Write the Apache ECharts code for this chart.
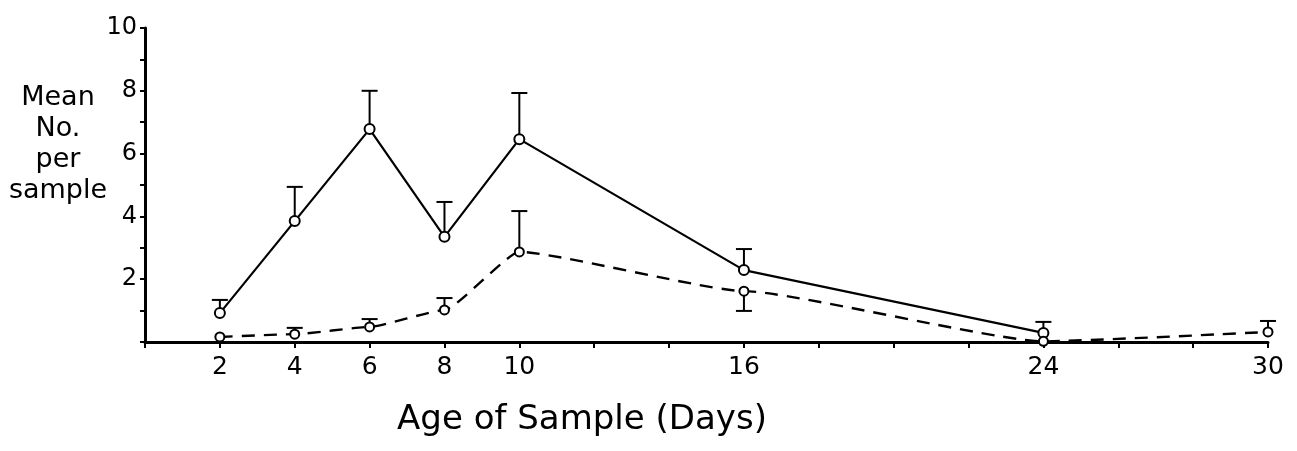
<!DOCTYPE html>
<html>
<head>
<meta charset="utf-8">
<script src="https://cdn.jsdelivr.net/npm/echarts@6/dist/echarts.min.js"></script>
<style>
  html, body { margin: 0; padding: 0; background: #fff; }
  #chart { width: 1297px; height: 451px; }
</style>
</head>
<body>
<div id="chart"></div>
<script>
// data
var days = [2, 4, 6, 8, 10, 16, 24, 30];
var solidMean = [0.92, 3.85, 6.78, 3.35, 6.46, 2.29, 0.29, null];
var solidErr = [1.34, 4.94, 8.0, 4.46, 7.93, 2.96, 0.64, null];
var dashedMean = [0.16, 0.25, 0.48, 1.02, 2.87, 1.62, 0.02, 0.32];
var dashedErr = [null, 0.45, 0.73, 1.4, 4.17, 0.99, null, 0.67];
var xLabels = [2, 4, 6, 8, 10, 16, 24, 30];
var yLabels = [2, 4, 6, 8, 10];

function pairs(ys) {
    var out = [];
    for (var i = 0; i < days.length; i++) {
        if (ys[i] != null) out.push([days[i], ys[i]]);
    }
    return out;
}

function errPairs(means, ends) {
    var out = [];
    for (var i = 0; i < days.length; i++) {
        if (means[i] != null && ends[i] != null) out.push([days[i], means[i], ends[i]]);
    }
    return out;
}

function errorBar(params, api) {
    var p0 = api.coord([api.value(0), api.value(1)]);
    var p1 = api.coord([api.value(0), api.value(2)]);
    var dir = p1[1] < p0[1] ? 1 : -1;
    var style = { stroke: '#000', lineWidth: 2 };
    return {
        type: 'group',
        children: [
            { type: 'line', shape: { x1: p0[0], y1: p0[1] - dir * 4, x2: p1[0], y2: p1[1] }, style: style },
            { type: 'line', shape: { x1: p1[0] - 8, y1: p1[1], x2: p1[0] + 8, y2: p1[1] }, style: style }
        ]
    };
}

var chart = echarts.init(document.getElementById('chart'));
var font = 'DejaVu Sans';

var option = {
    animation: false,
    backgroundColor: '#fff',
    grid: { left: 145, right: 29, top: 28, bottom: 109 },
    graphic: [
        {
            type: 'text',
            x: 58,
            y: 82,
            style: {
                text: 'Mean\nNo.\nper\nsample',
                font: '27px "DejaVu Sans"',
                fill: '#000',
                align: 'center',
                lineHeight: 31
            }
        },
        {
            type: 'text',
            x: 582,
            y: 403,
            style: {
                text: 'Age of Sample (Days)',
                font: '34px "DejaVu Sans"',
                fill: '#000',
                align: 'center'
            }
        }
    ],
    xAxis: {
        type: 'value',
        min: 0,
        max: 30,
        interval: 2,
        axisLine: { lineStyle: { color: '#000', width: 3 } },
        axisTick: { length: 6, lineStyle: { color: '#000', width: 2 } },
        splitLine: { show: false },
        axisLabel: {
            fontFamily: font, fontSize: 25, color: '#000', margin: 13,
            formatter: function (v) { return xLabels.indexOf(v) >= 0 ? String(v) : ''; }
        }
    },
    yAxis: {
        type: 'value',
        min: 0,
        max: 10,
        interval: 1,
        axisLine: { show: true, lineStyle: { color: '#000', width: 3 } },
        axisTick: { show: true, length: 5, lineStyle: { color: '#000', width: 2 } },
        splitLine: { show: false },
        axisLabel: {
            fontFamily: font, fontSize: 24, color: '#000', margin: 8,
            formatter: function (v) { return yLabels.indexOf(v) >= 0 ? String(v) : ''; }
        }
    },
    series: [
        {
            name: 'solid',
            type: 'line',
            data: pairs(solidMean),
            symbol: 'circle',
            symbolSize: 10,
            itemStyle: { color: '#fff', borderColor: '#000', borderWidth: 2 },
            lineStyle: { color: '#000', width: 2.2 },
            z: 3
        },
        {
            name: 'dashed',
            type: 'line',
            data: pairs(dashedMean),
            smooth: 0.15,
            smoothMonotone: 'x',
            symbol: 'circle',
            symbolSize: 9,
            itemStyle: { color: '#fff', borderColor: '#000', borderWidth: 2 },
            lineStyle: { color: '#000', width: 2.4, type: [13, 9] },
            z: 3
        },
        {
            type: 'custom',
            renderItem: errorBar,
            data: errPairs(solidMean, solidErr),
            encode: { x: 0, y: [1, 2] },
            z: 2
        },
        {
            type: 'custom',
            renderItem: errorBar,
            data: errPairs(dashedMean, dashedErr),
            encode: { x: 0, y: [1, 2] },
            z: 2
        }
    ]
};

chart.setOption(option);
</script>
</body>
</html>
